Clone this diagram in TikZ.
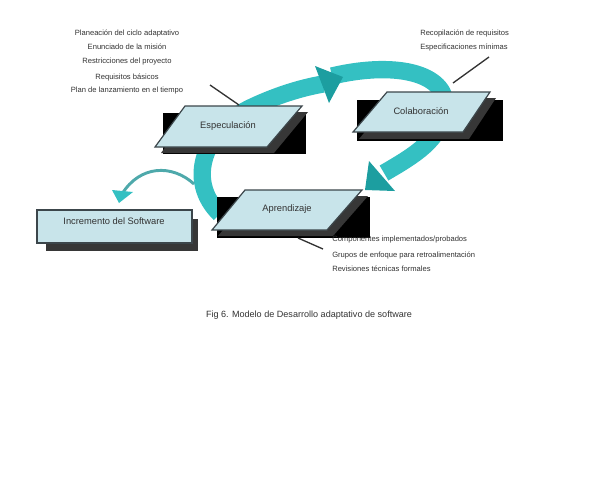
\documentclass[tikz,border=0pt]{standalone}
\usepackage{fontspec}
\setmainfont{Liberation Sans}
\definecolor{teal1}{RGB}{52,192,194}
\definecolor{teal2}{RGB}{28,158,160}
\definecolor{boxfill}{RGB}{200,228,234}
\definecolor{boxedge}{RGB}{60,70,75}
\definecolor{shadecol}{RGB}{55,55,55}
\definecolor{txt}{RGB}{50,50,50}
\tikzset{
  bigband/.style={draw=teal1,line width=13pt},
  headfill/.style={fill=teal2},
  smallband/.style={draw=teal1!65!gray,line width=2.2pt},
  leader/.style={draw=black!80,line width=1pt},
  boxlabel/.style={font=\fontsize{7}{8}\selectfont,text=txt,inner sep=0pt},
  sidetext/.style={font=\fontsize{5.7}{7}\selectfont,text=txt,inner sep=0pt},
  para/.style={fill=boxfill,draw=boxedge,line width=0.9pt},
}
\begin{document}
\begin{tikzpicture}[x=0.75pt,y=-0.75pt]
\useasboundingbox (0,0) rectangle (599,480);
% big loop arrows (behind boxes)
\coordinate (a1s) at (220,214);
\coordinate (a1e) at (323,84);
\coordinate (a2s) at (332,76);
\coordinate (a2e) at (384,173);
\draw[bigband] (a1s) .. controls (185,180) and (205,130) .. (250,108) .. controls (275,96) and (300,88) .. (a1e);
\draw[bigband] (a2s) .. controls (400,60) and (450,75) .. (445,110) .. controls (440,140) and (415,155) .. (a2e);
\fill[headfill] (343,77) -- (315,66) -- (329,103) -- cycle;
\fill[headfill] (365,190) -- (369,161) -- (395,191) -- cycle;
% small arrow
\coordinate (s1) at (194,184);
\coordinate (s2) at (122,194);
\draw[smallband] (s1) .. controls (172,164) and (140,165) .. (s2);
\fill[fill=teal1] (119,203) -- (112,190) -- (133,192) -- cycle;
% Especulacion
\fill[black] (163,113) rectangle (306,154);
\fill[shadecol] (191,112) -- (308,112) -- (274,153) -- (161,153) -- cycle;
\draw[para] (185,106) -- (302,106) -- (267,147) -- (155,147) -- cycle;
\node[boxlabel] (esp) at (228,126) {Especulación};
% Colaboracion
\fill[black] (357,100) rectangle (503,141);
\fill[shadecol] (393,98) -- (496,98) -- (469,139) -- (359,139) -- cycle;
\draw[para] (387,92) -- (490,92) -- (463,132) -- (353,132) -- cycle;
\node[boxlabel] (col) at (421,111) {Colaboración};
% Aprendizaje
\fill[black] (217,197) rectangle (370,238);
\fill[shadecol] (251,196) -- (368,196) -- (333,236) -- (218,236) -- cycle;
\draw[para] (245,190) -- (362,190) -- (327,230) -- (212,230) -- cycle;
\node[boxlabel] (apr) at (287,209) {Aprendizaje};
% Incremento del Software
\fill[shadecol] (46,219) rectangle (198,251);
\draw[para] (37,210) rectangle (192,243);
\node[boxlabel] (inc) at (114,221) {Incremento del Software};
% leader lines
\coordinate (l1a) at (210,85); \coordinate (l1b) at (239,105);
\coordinate (l2a) at (489,57); \coordinate (l2b) at (453,83);
\coordinate (l3a) at (298,238); \coordinate (l3b) at (323,249);
\draw[leader] (l1a) -- (l1b);
\draw[leader] (l2a) -- (l2b);
\draw[leader] (l3a) -- (l3b);
% left text block
\node[sidetext] (t1) at (127,33) {Planeación del ciclo adaptativo};
\node[sidetext] (t2) at (127,47) {Enunciado de la misión};
\node[sidetext] (t3) at (127,62) {Restricciones del proyecto};
\node[sidetext] (t4) at (127,77) {Requisitos básicos};
\node[sidetext] (t5) at (127,91) {Plan de lanzamiento en el tiempo};
% right text block
\node[sidetext,anchor=west] (r1) at (420,33) {Recopilación de requisitos};
\node[sidetext,anchor=west] (r2) at (420,47) {Especificaciones mínimas};
% bottom text block
\node[sidetext,anchor=west] (b1) at (332,240) {Componentes implementados/probados};
\node[sidetext,anchor=west] (b2) at (332,255) {Grupos de enfoque para retroalimentación};
\node[sidetext,anchor=west] (b3) at (332,269) {Revisiones técnicas formales};
% caption
\node[font=\fontsize{6.8}{8}\selectfont,text=txt,inner sep=0pt] (cap) at (309,315) {Fig 6. Modelo de Desarrollo adaptativo de software};
\end{tikzpicture}
\end{document}
